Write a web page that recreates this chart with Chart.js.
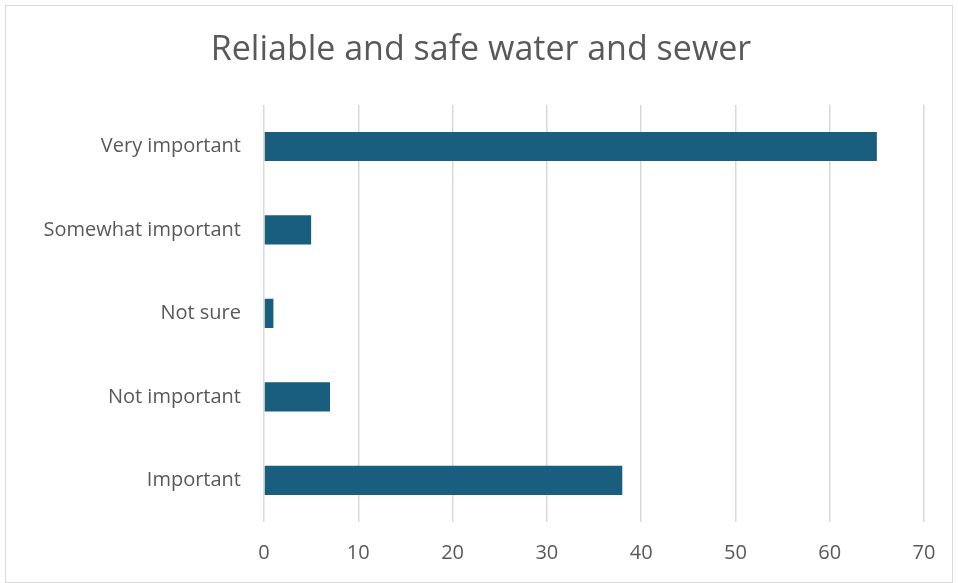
<!DOCTYPE html>
<html>
<head>
<meta charset="utf-8">
<script src="https://cdn.jsdelivr.net/npm/chart.js@4"></script>
<style>
  html, body { margin: 0; padding: 0; background: #fff; }
  #wrap { position: relative; width: 958px; height: 583px; }
  #frame { position: absolute; left: 5px; top: 5px; width: 946px; height: 576px; border: 1px solid #d9d9d9; pointer-events: none; }
</style>
</head>
<body>
<div id="wrap">
  <canvas id="chart" width="958" height="583"></canvas>
  <div id="frame"></div>
</div>
<script>
// --- data ---
const chartTitle = 'Reliable and safe water and sewer';
const categories = ['Very important', 'Somewhat important', 'Not sure', 'Not important', 'Important'];
const values = [65, 5, 1, 7, 38];
const xTicks = [0, 10, 20, 30, 40, 50, 60, 70];

const textColor = '#595959';
const fontFamily = "'Open Sans', 'Liberation Sans', sans-serif";

const ctx = document.getElementById('chart').getContext('2d');
new Chart(ctx, {
    type: 'bar',
    data: {
        labels: categories,
        datasets: [{
            data: values,
            backgroundColor: '#195e7f',
            borderWidth: 0,
            barPercentage: 0.35,
            categoryPercentage: 1
        }]
    },
    options: {
        indexAxis: 'y',
        responsive: false,
        animation: false,
        // left padding keeps the title centred a little right, like the original
        layout: { padding: { top: 0, right: 34, bottom: 0, left: 38 } },
        plugins: {
            legend: { display: false },
            tooltip: { enabled: false },
            title: {
                display: true,
                text: chartTitle,
                color: textColor,
                font: { size: 34, family: fontFamily, weight: 'normal' },
                padding: { top: 30, bottom: 34 }
            }
        },
        scales: {
            x: {
                min: xTicks[0],
                max: xTicks[xTicks.length - 1],
                afterBuildTicks: (axis) => { axis.ticks = xTicks.map(v => ({ value: v })); },
                afterFit: (axis) => { axis.height = 61; },
                border: { display: false },
                grid: { color: '#d9d9d9', lineWidth: 1.5, drawTicks: false },
                ticks: { color: textColor, padding: 19, font: { size: 20, family: fontFamily } }
            },
            y: {
                afterFit: (axis) => { axis.width = 226; },
                border: { display: false },
                grid: { display: false, drawTicks: false },
                ticks: { color: textColor, padding: 23, font: { size: 20, family: fontFamily } }
            }
        }
    }
});
</script>
</body>
</html>
